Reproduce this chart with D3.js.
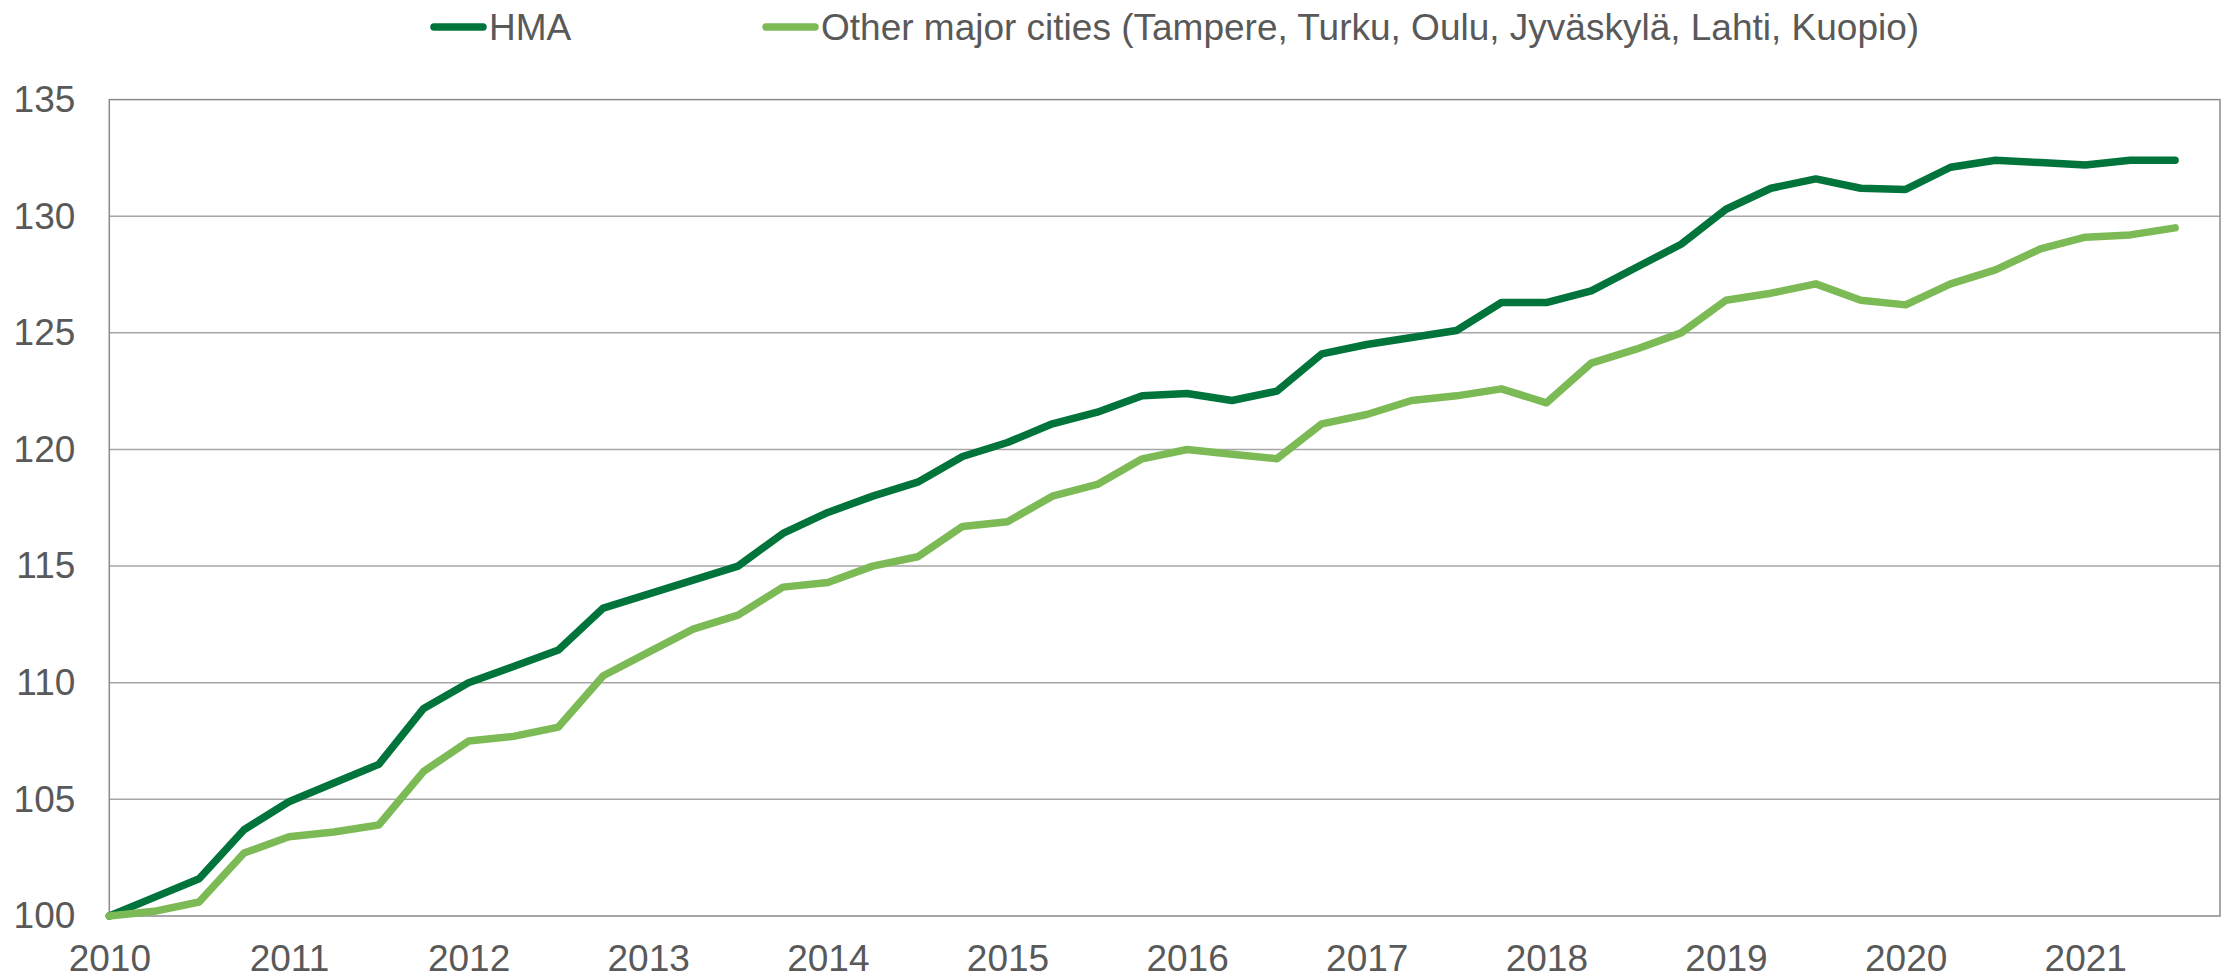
<!DOCTYPE html>
<html>
<head>
<meta charset="utf-8">
<script src="https://cdn.jsdelivr.net/npm/d3@7"></script>
<style>
  html, body { margin: 0; padding: 0; background: #ffffff; }
  svg { display: block; font-family: "Liberation Sans", Arial, sans-serif; }
</style>
</head>
<body>
<svg id="chart" width="2232" height="980"></svg>
<script>
'use strict';

// ── Data (quarterly index, 2010 Q1 = 100) ─────────────────
const yearLabels = ['2010','2011','2012','2013','2014','2015','2016','2017','2018','2019','2020','2021'];

const hma = [
  100.0, 100.8, 101.6, 103.7, 104.9, 105.7, 106.5, 108.9, 110.0, 110.7,
  111.4, 113.2, 113.8, 114.4, 115.0, 116.4, 117.3, 118.0, 118.6,
  119.7, 120.3, 121.1, 121.6, 122.3, 122.4, 122.1, 122.5, 124.1,
  124.5, 124.8, 125.1, 126.3, 126.3, 126.8, 127.8, 128.8, 130.3,
  131.2, 131.6, 131.2, 131.15, 132.1, 132.4, 132.3, 132.2, 132.4, 132.4
];

const otherCities = [
  100.0, 100.2, 100.6, 102.7, 103.4, 103.6, 103.9, 106.2, 107.5, 107.7,
  108.1, 110.3, 111.3, 112.3, 112.9, 114.1, 114.3, 115.0, 115.4,
  116.7, 116.9, 118.0, 118.5, 119.6, 120.0, 119.8, 119.6, 121.1,
  121.5, 122.1, 122.3, 122.6, 122.0, 123.7, 124.3, 125.0, 126.4,
  126.7, 127.1, 126.4, 126.2, 127.1, 127.7, 128.6, 129.1, 129.2, 129.5
];

const yTicks = [100, 105, 110, 115, 120, 125, 130, 135];

const series = [
  { name: 'HMA', values: hma, color: '#00743a' },
  { name: 'Other major cities (Tampere, Turku, Oulu, Jyväskylä, Lahti, Kuopio)', values: otherCities, color: '#7cba56' }
];

// ── Layout ────────────────────────────────────────────────
const W = 2232, H = 980;
const margin = { top: 99.6, right: 12, bottom: 64, left: 109.3 };
const iW = W - margin.left - margin.right;
const iH = H - margin.top - margin.bottom;
const textColor = '#595959';
const gridColor = '#a6a6a6';
const borderColor = '#8a8a8a';
const fontSize = 37;
const lineWidth = 7.5;

const svg = d3.select('#chart');
const g = svg.append('g').attr('transform', `translate(${margin.left},${margin.top})`);

// Scales: one slot per quarter, 48 slots on the axis
const x = d3.scaleLinear().domain([0, 47]).range([0, iW]);
const y = d3.scaleLinear().domain([100, 135]).range([iH, 0]);

// Grid lines
g.append('g')
  .selectAll('line')
  .data(yTicks.slice(1, -1))
  .join('line')
  .attr('x1', 0).attr('x2', iW)
  .attr('y1', d => y(d)).attr('y2', d => y(d))
  .attr('stroke', gridColor)
  .attr('stroke-width', 1.5);

// Plot border
g.append('rect')
  .attr('x', 0).attr('y', 0)
  .attr('width', iW).attr('height', iH)
  .attr('fill', 'none')
  .attr('stroke', borderColor)
  .attr('stroke-width', 1.5);

// Y axis
const yAxis = g.append('g')
  .call(d3.axisLeft(y).tickValues(yTicks).tickSize(0).tickPadding(34).tickFormat(d3.format('d')));
yAxis.select('.domain').remove();
yAxis.selectAll('text')
  .attr('fill', textColor)
  .attr('font-size', fontSize)
  .attr('font-family', '"Liberation Sans", Arial, sans-serif');

// X axis (labels at each year's first quarter)
const xAxis = g.append('g')
  .attr('transform', `translate(0,${iH})`)
  .call(d3.axisBottom(x)
    .tickValues(yearLabels.map((_, i) => i * 4))
    .tickSize(0)
    .tickPadding(29)
    .tickFormat((d, i) => yearLabels[i]));
xAxis.select('.domain').remove();
xAxis.selectAll('text')
  .attr('fill', textColor)
  .attr('font-size', fontSize)
  .attr('font-family', '"Liberation Sans", Arial, sans-serif');

// Lines
const lineGen = d3.line()
  .x((d, i) => x(i))
  .y(d => y(d));

series.forEach(s => {
  g.append('path')
    .datum(s.values)
    .attr('d', lineGen)
    .attr('fill', 'none')
    .attr('stroke', s.color)
    .attr('stroke-width', lineWidth)
    .attr('stroke-linejoin', 'round')
    .attr('stroke-linecap', 'round');
});

// ── Legend ────────────────────────────────────────────────
const legendY = 27;
const legendPos = [430, 762];
series.forEach((s, i) => {
  const lg = svg.append('g').attr('transform', `translate(${legendPos[i]},${legendY})`);
  lg.append('line')
    .attr('x1', 4).attr('x2', 53)
    .attr('y1', 0).attr('y2', 0)
    .attr('stroke', s.color)
    .attr('stroke-width', lineWidth)
    .attr('stroke-linecap', 'round');
  lg.append('text')
    .attr('x', 59)
    .attr('y', 0)
    .attr('dy', '0.35em')
    .attr('fill', textColor)
    .attr('font-size', fontSize)
    .text(s.name);
});
</script>
</body>
</html>
